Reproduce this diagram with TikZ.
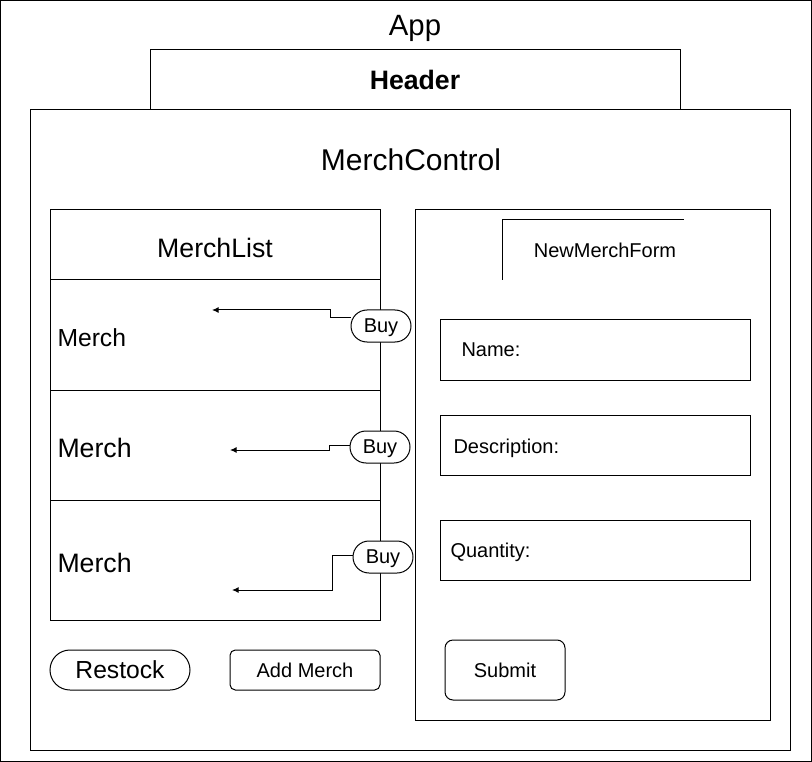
\documentclass[tikz,border=0pt]{standalone}
\usepackage{fontspec}
\setmainfont{Liberation Sans}
\usetikzlibrary{arrows.meta,positioning}

\begin{document}
\begin{tikzpicture}[x=0.75pt, y=-0.75pt, line width=0.75pt,
    every node/.style={font=\fontsize{15}{18}\selectfont, inner sep=0pt, text depth=0pt},
    big/.style={font=\fontsize{22}{26}\selectfont},
    mid/.style={font=\fontsize{20}{24}\selectfont},
    pill/.style={draw, fill=white, rounded corners=12pt, minimum width=45pt, minimum height=24pt},
    btn/.style={draw, fill=white, rounded corners=#1},
    flow/.style={-{Latex[length=5pt,width=4.5pt]}}]
  \useasboundingbox (0,0) rectangle (812,762);
  \draw (0.5,0.5) rectangle (811,761);

  \node[big] (app) at (415,25) {App};

  \draw (150,50) rectangle (680,110);
  \node[mid, font=\bfseries\fontsize{20}{24}\selectfont] (header) at (415,80) {Header};

  \draw (30,110) rectangle (790,750);
  \node[font=\fontsize{22.5}{27}\selectfont] (control) at (411,160) {MerchControl};

  % merch list
  \draw (50,210) rectangle (380,620);
  \foreach \y in {280,390,500}
    \draw (50,\y) -- (380,\y);
  \node[mid] (list) at (215,248) {MerchList};
  \node[font=\fontsize{18.5}{22}\selectfont, anchor=west] (merch1) at (57,338) {Merch};
  \node[mid, anchor=west] (merch2) at (57,448) {Merch};
  \node[mid, anchor=west] (merch3) at (57,563) {Merch};

  \node[pill] (buy1) at (381,326) {Buy};
  \node[pill] (buy2) at (380,447) {Buy};
  \node[pill] (buy3) at (383,557) {Buy};

  \coordinate (tip1) at (212,310);
  \coordinate (tip2) at (230,450);
  \coordinate (tip3) at (232,590);
  \draw[flow] ([yshift=6pt]buy1.west) -- ++(-20,0) |- (tip1);
  \draw[flow] ([yshift=1.5pt]buy2.west) -- ++(-20,0) |- (tip2);
  \draw[flow] ([yshift=1.5pt]buy3.west) -- ++(-20,0) |- (tip3);

  \node[btn=15pt, minimum width=105pt, minimum height=30pt, font=\fontsize{18.5}{22}\selectfont]
    (restock) at (120,670) {Restock};
  \node[btn=4pt, minimum width=112.5pt, minimum height=30pt] (add) at (305,670) {Add Merch};

  % new merch form
  \draw (415,210) rectangle (770,720);
  \draw (502,280) -- (502,220) -- (684,220);
  \node (form) at (605,250) {NewMerchForm};

  \draw (440,320) rectangle (750,380);
  \draw (440,415) rectangle (750,475);
  \draw (440,520) rectangle (750,580);
  \node[anchor=west] (name) at (461,350) {Name:};
  \node[anchor=west] (desc) at (453,446) {Description:};
  \node[anchor=west] (qty) at (450,550) {Quantity:};

  \node[btn=6pt, minimum width=90pt, minimum height=45pt] (submit) at (505,670) {Submit};
\end{tikzpicture}
\end{document}
